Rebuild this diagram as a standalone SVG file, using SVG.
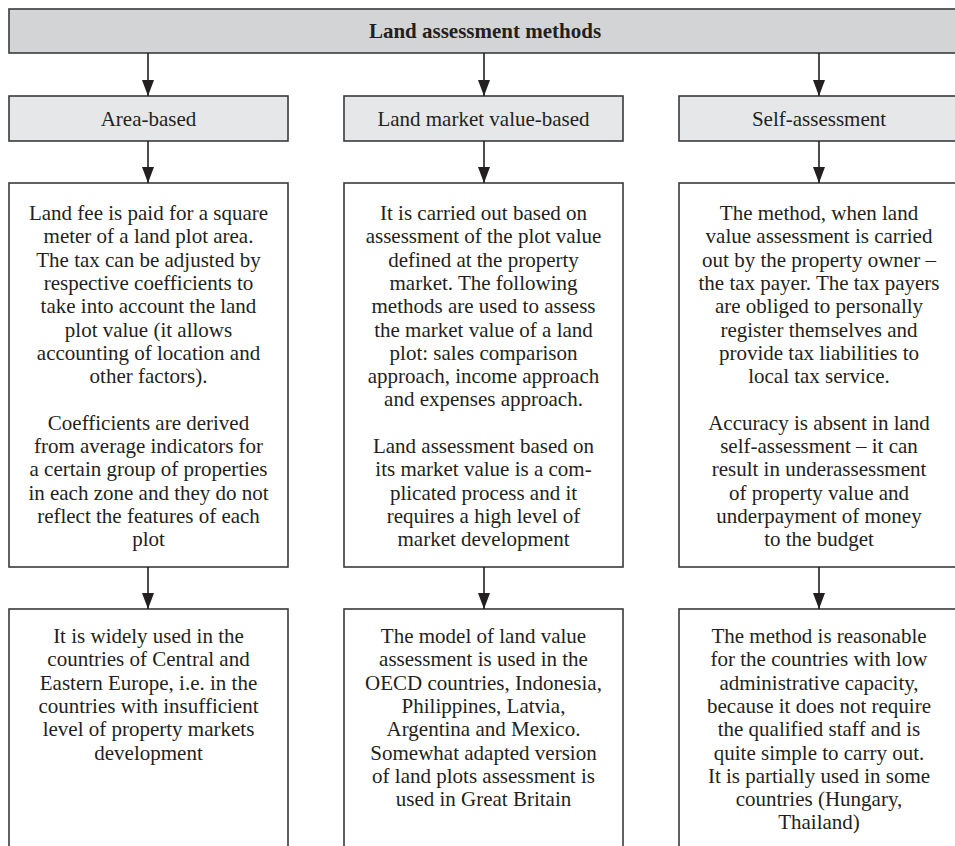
<svg xmlns="http://www.w3.org/2000/svg" width="955" height="846" viewBox="0 0 955 846">
<defs>
<marker id="ah" markerUnits="userSpaceOnUse" markerWidth="16" markerHeight="12" viewBox="0 -6 16 12" refX="16" refY="0" orient="auto">
<path d="M0,-6 L16,0 L0,6 z" fill="#231f20"/>
</marker>
<style>
.hdr{fill:#d3d4d6;stroke:#3a3a3a;stroke-width:1.6}
.sub{fill:#e6e7e8;stroke:#3a3a3a;stroke-width:1.6}
.box{fill:#ffffff;stroke:#3a3a3a;stroke-width:1.6}
text{font-family:"Liberation Serif","Times New Roman",serif;font-size:21px;fill:#231f20;text-anchor:middle}
.b{font-weight:bold}
.conn line{stroke:#231f20;stroke-width:1.6;marker-end:url(#ah)}
</style>
</defs>
<rect width="955" height="846" fill="#ffffff"/>

<g id="root">
<rect class="hdr" x="9" y="9" width="960" height="44"/>
<text class="b" x="485" y="38">Land assessment methods</text>
</g>

<g id="area-based">
<rect class="sub" x="9" y="96" width="279" height="45"/>
<text x="148.5" y="126">Area-based</text>
</g>
<g id="market-value-based">
<rect class="sub" x="344" y="96" width="279" height="45"/>
<text x="483.5" y="126">Land market value-based</text>
</g>
<g id="self-assessment">
<rect class="sub" x="679" y="96" width="280" height="45"/>
<text x="819" y="126">Self-assessment</text>
</g>

<g id="area-desc">
<rect class="box" x="9" y="183" width="279" height="384"/>
<text x="148.5" y="220">Land fee is paid for a square</text>
<text x="148.5" y="243.3">meter of a land plot area.</text>
<text x="148.5" y="266.6">The tax can be adjusted by</text>
<text x="148.5" y="289.9">respective coefficients to</text>
<text x="148.5" y="313.2">take into account the land</text>
<text x="148.5" y="336.5">plot value (it allows</text>
<text x="148.5" y="359.8">accounting of location and</text>
<text x="148.5" y="383.1">other factors).</text>
<text x="148.5" y="429.7">Coefficients are derived</text>
<text x="148.5" y="453">from average indicators for</text>
<text x="148.5" y="476.3">a certain group of properties</text>
<text x="148.5" y="499.6">in each zone and they do not</text>
<text x="148.5" y="522.9">reflect the features of each</text>
<text x="148.5" y="546.2">plot</text>
</g>

<g id="market-desc">
<rect class="box" x="344" y="183" width="279" height="384"/>
<text x="483.5" y="220">It is carried out based on</text>
<text x="483.5" y="243.3">assessment of the plot value</text>
<text x="483.5" y="266.6">defined at the property</text>
<text x="483.5" y="289.9">market. The following</text>
<text x="483.5" y="313.2">methods are used to assess</text>
<text x="483.5" y="336.5">the market value of a land</text>
<text x="483.5" y="359.8">plot: sales comparison</text>
<text x="483.5" y="383.1">approach, income approach</text>
<text x="483.5" y="406.4">and expenses approach.</text>
<text x="483.5" y="453">Land assessment based on</text>
<text x="483.5" y="476.3">its market value is a com-</text>
<text x="483.5" y="499.6">plicated process and it</text>
<text x="483.5" y="522.9">requires a high level of</text>
<text x="483.5" y="546.2">market development</text>
</g>

<g id="self-desc">
<rect class="box" x="679" y="183" width="280" height="384"/>
<text x="819" y="220">The method, when land</text>
<text x="819" y="243.3">value assessment is carried</text>
<text x="819" y="266.6">out by the property owner –</text>
<text x="819" y="289.9">the tax payer. The tax payers</text>
<text x="819" y="313.2">are obliged to personally</text>
<text x="819" y="336.5">register themselves and</text>
<text x="819" y="359.8">provide tax liabilities to</text>
<text x="819" y="383.1">local tax service.</text>
<text x="819" y="429.7">Accuracy is absent in land</text>
<text x="819" y="453">self-assessment – it can</text>
<text x="819" y="476.3">result in underassessment</text>
<text x="819" y="499.6">of property value and</text>
<text x="819" y="522.9">underpayment of money</text>
<text x="819" y="546.2">to the budget</text>
</g>

<g id="area-usage">
<rect class="box" x="9" y="609" width="279" height="260"/>
<text x="148.5" y="643">It is widely used in the</text>
<text x="148.5" y="666.3">countries of Central and</text>
<text x="148.5" y="689.6">Eastern Europe, i.e. in the</text>
<text x="148.5" y="712.9">countries with insufficient</text>
<text x="148.5" y="736.2">level of property markets</text>
<text x="148.5" y="759.5">development</text>
</g>

<g id="market-usage">
<rect class="box" x="344" y="609" width="279" height="260"/>
<text x="483.5" y="643">The model of land value</text>
<text x="483.5" y="666.3">assessment is used in the</text>
<text x="483.5" y="689.6">OECD countries, Indonesia,</text>
<text x="483.5" y="712.9">Philippines, Latvia,</text>
<text x="483.5" y="736.2">Argentina and Mexico.</text>
<text x="483.5" y="759.5">Somewhat adapted version</text>
<text x="483.5" y="782.8">of land plots assessment is</text>
<text x="483.5" y="806.1">used in Great Britain</text>
</g>

<g id="self-usage">
<rect class="box" x="679" y="609" width="280" height="260"/>
<text x="819" y="643">The method is reasonable</text>
<text x="819" y="666.3">for the countries with low</text>
<text x="819" y="689.6">administrative capacity,</text>
<text x="819" y="712.9">because it does not require</text>
<text x="819" y="736.2">the qualified staff and is</text>
<text x="819" y="759.5">quite simple to carry out.</text>
<text x="819" y="782.8">It is partially used in some</text>
<text x="819" y="806.1">countries (Hungary,</text>
<text x="819" y="829.4">Thailand)</text>
</g>

<g id="connectors" class="conn">
<line x1="148" y1="53" x2="148" y2="96"/>
<line x1="484" y1="53" x2="484" y2="96"/>
<line x1="819" y1="53" x2="819" y2="96"/>
<line x1="148" y1="141" x2="148" y2="183"/>
<line x1="484" y1="141" x2="484" y2="183"/>
<line x1="819" y1="141" x2="819" y2="183"/>
<line x1="148" y1="567" x2="148" y2="609"/>
<line x1="484" y1="567" x2="484" y2="609"/>
<line x1="819" y1="567" x2="819" y2="609"/>
</g>
</svg>
